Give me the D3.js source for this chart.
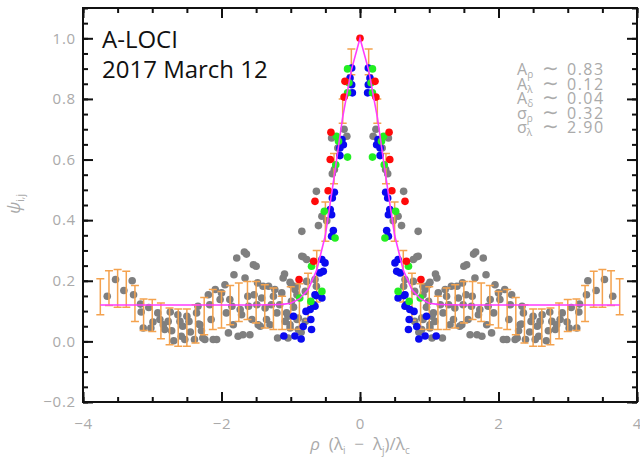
<!DOCTYPE html>
<html>
<head>
<meta charset="utf-8">
<script src="https://cdn.jsdelivr.net/npm/d3@7"></script>
<style>
body { margin: 0; background: #fff; }
text { font-family: "Open Sans", "DejaVu Sans", sans-serif; }
</style>
</head>
<body>
<div id="chart"></div>
<script>
// pair correlations are symmetric (psi_ij = psi_ji), so only the x < 0 half is listed
// and the x > 0 half is its mirror image
const grayPts = [
  [-3.65,0.149],[-3.53,0.204],[-3.41,0.168],[-3.29,0.200],[-3.27,0.154],[-3.17,0.123],[-3.16,0.097],
  [-3.13,0.044],[-3.05,0.112],[-3.02,0.044],[-2.99,0.064],[-2.92,0.094],[-2.89,0.072],[-2.84,0.055],
  [-2.82,0.039],[-2.77,0.066],[-2.74,0.097],[-2.72,0.035],[-2.69,0.002],[-2.63,0.088],[-2.60,0.066],
  [-2.58,0.017],[-2.56,0.050],[-2.53,0.006],[-2.50,0.083],[-2.47,0.066],[-2.45,0.031],[-2.39,0.006],
  [-2.36,0.094],[-2.34,0.116],[-2.33,0.057],[-2.29,0.035],[-2.31,0.055],[-2.27,0.011],[-2.24,0.006],
  [-2.19,0.154],[-2.17,0.121],[-2.15,0.072],[-2.12,0.006],[-2.09,0.171],[-2.07,0.006],[-2.02,0.138],
  [-2.00,0.160],[-1.95,0.187],[-1.93,0.094],[-1.90,0.028],[-1.88,0.138],[-1.85,0.116],[-1.83,0.055],
  [-1.82,0.220],[-1.78,0.275],[-1.76,0.017],[-1.73,0.105],[-1.71,0.088],[-1.69,0.022],[-1.67,0.295],
  [-1.64,0.288],[-1.66,0.209],[-1.62,0.149],[-1.61,0.116],[-1.59,0.022],[-1.56,0.072],[-1.54,0.253],
  [-1.53,0.154],[-1.50,0.248],[-1.49,0.121],[-1.48,0.193],[-1.47,0.055],[-1.44,0.050],[-1.42,0.143],
  [-1.40,0.182],[-1.37,0.110],[-1.35,0.072],[-1.32,0.182],[-1.30,0.055],[-1.28,0.121],[-1.25,0.149],
  [-1.23,0.171],[-1.20,0.094],[-1.19,0.011],[-1.16,0.121],[-1.13,0.160],[-1.11,0.209],[-1.09,0.222],
  [-1.08,0.066],[-1.06,0.094],[-1.04,0.011],[-1.01,0.055],[-0.99,0.187],[-0.94,0.171],[-0.89,0.077],
  [-0.85,0.030],[-0.84,0.281],[-0.84,0.363],[-0.60,0.382],[-0.48,0.398],[-0.82,0.279],[-0.77,0.270],
  [-1.01,0.195],[-0.91,0.182],[-0.77,0.198],[-0.65,0.204],[-0.63,0.182],[-0.91,0.154],[-0.79,0.165],
  [-0.99,0.132],[-0.96,0.113],[-1.04,0.083],[-0.91,0.072],[-1.01,0.044],[-0.89,0.039],[-0.79,0.066],
  [-0.23,0.700],[-0.41,0.671],[-0.19,0.677],[-0.32,0.638],[-0.37,0.567],[-0.40,0.553],[-0.63,0.495],
  [-0.55,0.413]
];
const bluePts = [
  [-0.12,0.902],[-0.144,0.869],[-0.12,0.847],[-0.11,0.820],[-0.26,0.666],[-0.24,0.649],[-0.29,0.638],
  [-0.29,0.613],[-0.37,0.492],[-0.40,0.473],[-0.43,0.435],[-0.41,0.418],[-0.385,0.366],[-0.41,0.347],
  [-0.55,0.270],[-0.505,0.259],[-0.53,0.231],[-0.58,0.226],[-0.65,0.154],[-0.635,0.151],[-0.55,0.143],
  [-0.67,0.121],[-0.65,0.116],[-0.72,0.105],[-0.78,0.099],[-0.96,0.083],[-0.71,0.072],[-0.82,0.049],
  [-0.70,0.039],[-1.10,0.018],[-0.94,0.018],[-0.85,0.008]
];
const redPts = [
  [-0.217,0.858],[-0.23,0.806],[-0.42,0.690],[-0.43,0.600],[-0.46,0.497],[-0.65,0.462],
  [-0.67,0.264],[-0.88,0.204]
];
const greenPts = [
  [-0.18,0.899],[-0.16,0.853],[-0.18,0.820],[-0.34,0.677],[-0.31,0.660],[-0.18,0.608],[-0.35,0.583],
  [-0.515,0.429],[-0.36,0.341],[-0.70,0.248],[-0.55,0.165],[-0.87,0.143],[-0.71,0.132]
];
const peakPts = [[0, 1.0]];

// binned means: bin centre, lower and upper end of the error bar
const binX  = [-0.125,-0.25,-0.375,-0.5,-0.625,-0.75,-0.875,-1.0,-1.125,-1.25,-1.375,-1.5,-1.625,-1.75,-1.875,
               -2.0,-2.125,-2.25,-2.375,-2.5,-2.625,-2.75,-2.875,-3.0,-3.125,-3.25,-3.375,-3.5,-3.625,-3.75];
const binLo = [0.88,0.72,0.52,0.33,0.13,0.07,0.040,0.039,0.039,0.039,0.044,0.061,0.072,0.066,0.055,
               0.044,0.039,0.022,-0.005,-0.016,-0.016,-0.011,0.009,0.033,0.036,0.066,0.113,0.113,0.118,0.088];
const binHi = [0.965,0.80,0.62,0.46,0.30,0.225,0.19,0.180,0.149,0.176,0.187,0.198,0.198,0.193,0.184,
               0.165,0.171,0.145,0.121,0.107,0.107,0.110,0.127,0.138,0.140,0.184,0.231,0.237,0.233,0.207];

// model curve
const fitX = [-3.75,-3.0,-2.0,-1.5,-1.25,-1.125,-1.0,-0.875,-0.75,-0.625,-0.5,-0.375,-0.25,-0.125,0];
const fitY = [0.12,0.12,0.12,0.12,0.121,0.122,0.126,0.14,0.17,0.235,0.35,0.54,0.74,0.895,1.0];

const xMajor = [-4,-2,0,2,4];
const yMajor = [-0.2,0,0.2,0.4,0.6,0.8,1.0];

const fitNames = [["A","ρ"],["A","λ"],["A","δ"],["σ","ρ"],["σ","λ"]];
const fitValues = ["0.83","0.12","0.04","0.32","2.90"];

const W = 640, H = 462;
const mLeft = 83, mRight = 637, mTop = 8, mBottom = 402;

const mirror = pts => pts.concat(pts.map(d => [-d[0], d[1]]));

const svg = d3.select("#chart").append("svg")
    .attr("width", W)
    .attr("height", H);

const x = d3.scaleLinear().domain([-4, 4]).range([mLeft, mRight]);
const y = d3.scaleLinear().domain([-0.2, 1.1]).range([mBottom, mTop]);

const ink = "#aaaaaa";
const nb = "\u00a0";

// gray points first, everything else on top
function dots(pts, color) {
    svg.append("g").selectAll("circle")
        .data(pts)
        .enter().append("circle")
        .attr("cx", d => x(d[0]))
        .attr("cy", d => y(d[1]))
        .attr("r", 3.8)
        .attr("fill", color);
}
dots(mirror(grayPts), "#7f7f7f");

// error bars
const bins = mirror(binX.map(b => [b, 0])).map((d, i) => {
    const k = i % binX.length;
    return {x: d[0], lo: binLo[k], hi: binHi[k]};
});
const eb = svg.append("g").attr("stroke", "#f4a24e").attr("stroke-width", 1.5).attr("fill", "none");
eb.selectAll("path")
    .data(bins)
    .enter().append("path")
    .attr("d", d => {
        const cx = x(d.x), y0 = y(d.lo), y1 = y(d.hi);
        return `M${cx - 4},${y0}H${cx + 4}M${cx},${y0}V${y1}M${cx - 4},${y1}H${cx + 4}`;
    });

dots(mirror(bluePts), "#0a0af0");
dots(mirror(greenPts), "#22ee22");
dots(mirror(redPts), "#ff0a0a");
dots(peakPts, "#ff0a0a");

// fit curve
const fitPts = fitX.map((v, i) => [v, fitY[i]])
    .concat(fitX.slice(0, -1).map((v, i) => [-v, fitY[i]]).reverse());
svg.append("path")
    .datum(fitPts)
    .attr("fill", "none")
    .attr("stroke", "#ff3cff")
    .attr("stroke-width", 1.6)
    .attr("d", d3.line().x(d => x(d[0])).y(d => y(d[1])));

// axes, ticks pointing inward on all four sides
const xMinor = d3.range(-4, 4.001, 0.5);
const yMinor = d3.range(-0.2, 1.1001, 0.05);
const fmtX = d => d3.format("d")(d);
const fmtY = d => d3.format(".1f")(d);

function styleAxis(g) {
    g.select(".domain").remove();
    g.selectAll("line").attr("stroke", "#111").attr("stroke-width", 2);
    g.selectAll("text").attr("fill", ink).attr("font-size", 15).attr("letter-spacing", 0.8);
}

svg.append("g").attr("transform", `translate(0,${mBottom})`)
    .call(d3.axisBottom(x).tickValues(xMinor).tickSize(-5).tickFormat("")).call(styleAxis);
svg.append("g").attr("transform", `translate(0,${mBottom})`)
    .call(d3.axisBottom(x).tickValues(xMajor).tickSize(-10).tickPadding(16).tickFormat(fmtX)).call(styleAxis);
svg.append("g").attr("transform", `translate(0,${mTop})`)
    .call(d3.axisTop(x).tickValues(xMinor).tickSize(-5).tickFormat("")).call(styleAxis);
svg.append("g").attr("transform", `translate(0,${mTop})`)
    .call(d3.axisTop(x).tickValues(xMajor).tickSize(-10).tickFormat("")).call(styleAxis);

svg.append("g").attr("transform", `translate(${mLeft},0)`)
    .call(d3.axisLeft(y).tickValues(yMinor).tickSize(-5).tickFormat("")).call(styleAxis);
svg.append("g").attr("transform", `translate(${mLeft},0)`)
    .call(d3.axisLeft(y).tickValues(yMajor).tickSize(-10).tickPadding(7).tickFormat(fmtY)).call(styleAxis);
svg.append("g").attr("transform", `translate(${mRight},0)`)
    .call(d3.axisRight(y).tickValues(yMinor).tickSize(-5).tickFormat("")).call(styleAxis);
svg.append("g").attr("transform", `translate(${mRight},0)`)
    .call(d3.axisRight(y).tickValues(yMajor).tickSize(-10).tickFormat("")).call(styleAxis);

svg.append("rect")
    .attr("x", mLeft).attr("y", mTop)
    .attr("width", mRight - mLeft).attr("height", mBottom - mTop)
    .attr("fill", "none").attr("stroke", "#111").attr("stroke-width", 2);

// axis titles
const xt = svg.append("text")
    .attr("x", 360).attr("y", 450)
    .attr("text-anchor", "middle")
    .attr("fill", ink).attr("font-size", 17);
xt.append("tspan").attr("font-style", "italic").text("ρ");
xt.append("tspan").text(nb + nb + "(λ");
xt.append("tspan").attr("font-size", 10).attr("dy", 4).text("i");
xt.append("tspan").attr("dy", -4).text(nb + nb + "−" + nb + nb + "λ");
xt.append("tspan").attr("font-size", 10).attr("dy", 4).text("j");
xt.append("tspan").attr("dy", -4).text(")/λ");
xt.append("tspan").attr("font-size", 10).attr("dy", 4).text("c");

const yt = svg.append("text")
    .attr("transform", "translate(20,204) rotate(-90)")
    .attr("text-anchor", "middle")
    .attr("fill", ink).attr("font-size", 17);
yt.append("tspan").attr("font-style", "italic").text("ψ");
yt.append("tspan").attr("font-size", 10).attr("dy", 4).text("i,j");

// title
svg.append("text").attr("x", 102).attr("y", 48)
    .attr("font-family", "Liberation Sans, Arial, sans-serif")
    .attr("font-size", 24).attr("fill", "#111").text("A-LOCI");
svg.append("text").attr("x", 102).attr("y", 78)
    .attr("font-family", "Liberation Sans, Arial, sans-serif")
    .attr("font-size", 24).attr("fill", "#111").text("2017 March 12");

// fit parameters, one text per row
const pg = svg.append("g").attr("fill", ink).attr("font-size", 16);
fitNames.forEach((n, i) => {
    const t = pg.append("text").attr("x", 517).attr("y", 75 + i * 14.5);
    t.append("tspan").text(n[0]);
    t.append("tspan").attr("font-size", 10).attr("dy", 3).text(n[1]);
    t.append("tspan").attr("x", 542).attr("dy", -3).attr("font-size", 20)
        .attr("font-family", "DejaVu Sans").text("∼");
    t.append("tspan").attr("x", 567).attr("letter-spacing", 1.5).text(fitValues[i]);
});
</script>
</body>
</html>
